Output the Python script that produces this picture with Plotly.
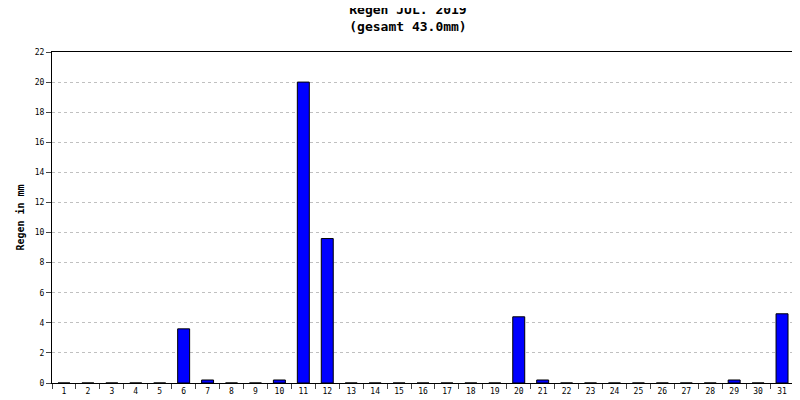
import plotly.graph_objects as go

days = [str(d) for d in range(1, 32)]
rain = [0,0,0,0,0,3.6,0.2,0,0,0.2,20,9.6,0,0,0,0,0,0,0,4.4,0.2,0,0,0,0,0,0,0,0.2,0,4.6]
yticks = list(range(0, 23, 2))

fig = go.Figure(go.Bar(x=days, y=rain, marker=dict(color="#0000ff", line=dict(color="black", width=1)), width=0.5))
fig.update_layout(
    width=800, height=400, margin=dict(l=43, r=14, t=44, b=23),
    paper_bgcolor="white", plot_bgcolor="white",
    font=dict(family="DejaVu Sans Mono", size=8, color="black"),
    title=dict(text="<b>Regen JUL. 2019<br>(gesamt 43.0mm)</b>", x=0.5, y=0.985, yanchor="top",
               font=dict(family="DejaVu Sans Mono", size=13)),
    showlegend=False,
)
fig.update_xaxes(type="category", tickson="boundaries", ticks="outside", ticklen=5,
                 showline=True, linecolor="black", mirror=True, showgrid=False,
                 tickfont=dict(size=8))
fig.update_yaxes(range=[0, 22], tickvals=yticks, ticks="outside", ticklen=5,
                 showline=True, linecolor="black", mirror=True,
                 showgrid=True, gridcolor="#c0c0c0", griddash="dot", zeroline=False,
                 title=dict(text="<b>Regen in mm</b>", font=dict(size=10), standoff=8))
fig.write_html("out.html")
